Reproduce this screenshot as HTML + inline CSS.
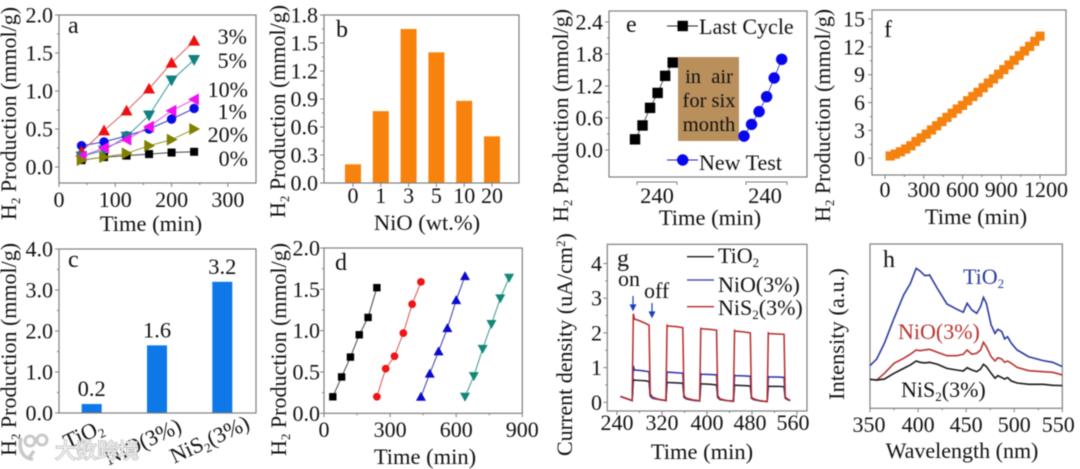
<!DOCTYPE html>
<html lang="en">
<head>
<meta charset="utf-8">
<title>H2 production panels a-h</title>
<style>
html,body{margin:0;padding:0;background:#fff;width:1080px;height:469px;overflow:hidden}
svg{display:block;filter:blur(0.5px)}
text{font-family:"Liberation Serif","Noto Serif CJK SC",serif;font-size:22px;fill:#111}
.t{font-size:22px}
.x{font-size:22.5px}
.p{font-size:24px}
.l{font-size:22px}
</style>
</head>
<body>
<svg id="chart" xmlns="http://www.w3.org/2000/svg" width="1080" height="469" viewBox="0 0 1080 469">
<rect x="0" y="0" width="1080" height="469" fill="#fff"/>

<g id="a">
<text class="t" transform="translate(16,220) rotate(-90)">H<tspan dy="4" font-size="13">2</tspan><tspan dy="-4"> Production (mmol/g)</tspan></text>
<text class="x" x="151" y="231" text-anchor="middle">Time (min)</text>
<text class="p" x="68" y="33">a</text>
<text class="t" x="247" y="44" text-anchor="end">3%</text>
<text class="t" x="247" y="68" text-anchor="end">5%</text>
<text class="t" x="248" y="97" text-anchor="end">10%</text>
<text class="t" x="247" y="119" text-anchor="end">1%</text>
<text class="t" x="248" y="142" text-anchor="end">20%</text>
<text class="t" x="248" y="166" text-anchor="end">0%</text>
</g>

<g id="b">
<text class="t" transform="translate(285,218) rotate(-90)">H<tspan dy="4" font-size="13">2</tspan><tspan dy="-4"> Production (mmol/g)</tspan></text>
<text class="x" x="427" y="230" text-anchor="middle">NiO (wt.%)</text>
<text class="p" x="336" y="37">b</text>
</g>

<g id="c">
<text class="t" transform="translate(16,456) rotate(-90)">H<tspan dy="4" font-size="13">2</tspan><tspan dy="-4"> Production (mmol/g)</tspan></text>
<text class="p" x="68" y="267">c</text>
<text class="t" text-anchor="end" transform="translate(105,432) rotate(-25)">TiO<tspan dy="4" font-size="13">2</tspan></text>
<text class="t" text-anchor="end" transform="translate(183,431) rotate(-25)">NiO(3%)</text>
<text class="t" text-anchor="end" transform="translate(251,428) rotate(-25)">NiS<tspan dy="4" font-size="13">2</tspan><tspan dy="-4">(3%)</tspan></text>
</g>

<g id="d">
<text class="t" transform="translate(286,456) rotate(-90)">H<tspan dy="4" font-size="13">2</tspan><tspan dy="-4"> Production (mmol/g)</tspan></text>
<text class="x" x="425" y="464" text-anchor="middle">Time (min)</text>
<text class="p" x="335" y="270">d</text>
</g>

<g id="e">
<text class="t" transform="translate(568,222) rotate(-90)">H<tspan dy="4" font-size="13">2</tspan><tspan dy="-4"> Production (mmol/g)</tspan></text>
<text class="x" x="710" y="225" text-anchor="middle">Time (min)</text>
<rect x="678" y="57" width="61" height="84" fill="#b98f5c"/>
<text x="709" y="83" text-anchor="middle" style="font-size:20.5px">in&#160; air</text>
<text x="709" y="107" text-anchor="middle" style="font-size:20.5px">for six</text>
<text x="709" y="131" text-anchor="middle" style="font-size:20.5px">month</text>
<text class="p" x="626" y="32">e</text>
<text class="l" x="699" y="34">Last Cycle</text>
<text class="l" x="699" y="170">New Test</text>
<text class="x" x="657" y="203" text-anchor="middle">240</text>
<text class="x" x="765" y="203" text-anchor="middle">240</text>
</g>

<g id="f">
<text class="t" transform="translate(830,222) rotate(-90)">H<tspan dy="4" font-size="13">2</tspan><tspan dy="-4"> Production (mmol/g)</tspan></text>
<text class="x" x="976" y="224" text-anchor="middle">Time (min)</text>
<text class="p" x="884" y="37">f</text>
</g>

<g id="g">
<text class="t" transform="translate(572,456) rotate(-90)">Current density (uA/cm<tspan dy="-7" font-size="13">2</tspan><tspan dy="7">)</tspan></text>
<text class="x" x="702" y="459" text-anchor="middle">Time (min)</text>
<text class="p" x="617" y="266">g</text>
<text class="t" x="618" y="286">on</text>
<text class="t" x="644" y="298">off</text>
<text class="l" x="718" y="263">TiO<tspan dy="4" font-size="13">2</tspan></text>
<text class="l" x="718" y="292">NiO(3%)</text>
<text class="l" x="718" y="315">NiS<tspan dy="4" font-size="13">2</tspan><tspan dy="-4">(3%)</tspan></text>
</g>

<g id="h">
<text class="x" transform="translate(844,400) rotate(-90)">Intensity (a.u.)</text>
<text class="l" x="962" y="458" text-anchor="middle">Wavelength (nm)</text>
<text class="p" x="883" y="267">h</text>
<text class="l" x="963" y="284" style="fill:#2b3a9f">TiO<tspan dy="4" font-size="13">2</tspan></text>
<text class="l" x="898" y="339" style="fill:#b8332f">NiO(3%)</text>
<text class="l" x="901" y="397">NiS<tspan dy="4" font-size="13">2</tspan><tspan dy="-4">(3%)</tspan></text>
</g>

<g id="wm">
<circle cx="30" cy="441" r="5" fill="none" stroke="#c9c9c9" stroke-width="3"/>
<circle cx="42" cy="440" r="5" fill="none" stroke="#c9c9c9" stroke-width="3"/>
<path d="M21 438 C18 451 24 459 33 459 M34 451 L28 459" fill="none" stroke="#c9c9c9" stroke-width="3.5"/>
<text x="55" y="458" stroke="#bdbdbd" stroke-width="1.4" paint-order="stroke" style="font-family:'Noto Sans CJK SC',sans-serif;font-size:21px;fill:rgba(250,250,250,0.82)">大数跨境</text>
</g>
</svg>

<script>
/* ---------- panel a ---------- */
const aTimes = [40, 80, 120, 160, 200, 240];
const a0pct = [0.09, 0.13, 0.15, 0.17, 0.19, 0.20];
const a1pct = [0.28, 0.33, 0.41, 0.50, 0.63, 0.77];
const a3pct = [0.20, 0.48, 0.74, 1.03, 1.37, 1.66];
const a5pct = [0.14, 0.22, 0.40, 0.68, 1.14, 1.41];
const a10pct = [0.14, 0.25, 0.36, 0.53, 0.74, 0.89];
const a20pct = [0.09, 0.13, 0.18, 0.28, 0.36, 0.50];
const aXTicks = ['0', '100', '200', '300'];
const aYTicks = ['0.0', '0.5', '1.0', '1.5', '2.0'];

/* ---------- panel b ---------- */
const bCategories = ['0', '1', '3', '5', '10', '20'];
const bValues = [0.20, 0.77, 1.65, 1.40, 0.88, 0.50];
const bYTicks = ['0.0', '0.3', '0.6', '0.9', '1.2', '1.5', '1.8'];

/* ---------- panel c ---------- */
const cValues = [0.22, 1.65, 3.20];
const cPrinted = ['0.2', '1.6', '3.2'];
const cYTicks = ['0.0', '1.0', '2.0', '3.0', '4.0'];

/* ---------- panel d ---------- */
const dTimes1 = [40, 80, 120, 160, 200, 240];
const dTimes2 = [240, 280, 320, 360, 400, 440];
const dTimes3 = [440, 480, 520, 560, 600, 640];
const dTimes4 = [640, 680, 720, 760, 800, 840];
const dRun1 = [0.20, 0.44, 0.68, 0.95, 1.16, 1.52];
const dRun2 = [0.20, 0.54, 0.69, 0.97, 1.32, 1.59];
const dRun3 = [0.20, 0.48, 0.75, 1.03, 1.37, 1.66];
const dRun4 = [0.20, 0.45, 0.78, 1.08, 1.39, 1.64];
const dXTicks = ['0', '300', '600', '900'];
const dYTicks = ['0.0', '0.5', '1.0', '1.5', '2.0'];

/* ---------- panel e ---------- */
const eTimes = [40, 80, 120, 160, 200, 240];
const eLast = [0.20, 0.46, 0.79, 1.07, 1.39, 1.64];
const eNew = [0.26, 0.48, 0.72, 1.00, 1.35, 1.70];
const eYTicks = ['0.0', '0.6', '1.2', '1.8', '2.4'];

/* ---------- panel f ---------- */
const fTimes = [40,80,120,160,200,240,280,320,360,400,440,480,520,560,600,640,680,720,760,800,840,880,920,960,1000,1040,1080,1120,1160,1200];
const fValues = [0.25,0.45,0.7,1.0,1.35,1.8,2.2,2.6,3.05,3.5,3.95,4.4,4.85,5.3,5.7,6.2,6.65,7.1,7.6,8.1,8.55,9.05,9.55,10.05,10.55,11.05,11.55,12.05,12.6,13.15];
const fXTicks = ['0', '300', '600', '900', '1200'];
const fYTicks = ['0', '3', '6', '9', '12', '15'];

/* ---------- panel g ---------- */
const gTimes = [246,258,267,269,271,280,290,297,299,303,315,327,329,331,345,357,359,363,375,387,389,391,405,417,419,423,435,447,449,451,465,477,479,483,495,507,509,511,525,537,539,543,548];
const gNiS2 = [.17,.1,.05,2.55,2.4,2.35,2.28,2.22,.25,.15,.08,.05,2.22,2.2,2.18,2.15,.2,.12,.07,.04,2.13,2.12,2.1,2.08,.2,.1,.05,.03,2.07,2.05,2.03,2.0,.15,.1,.04,.02,2.0,1.98,1.97,1.96,.15,.1,.05];
const gNiO = [.17,.1,.05,1.05,.93,.92,.9,.88,.2,.12,.08,.05,.87,.87,.85,.84,.17,.1,.06,.04,.82,.81,.8,.79,.15,.09,.05,.03,.78,.77,.76,.75,.13,.08,.04,.02,.74,.73,.73,.72,.13,.08,.05];
const gTiO2 = [.17,.1,.05,.66,.64,.63,.62,.6,.18,.12,.08,.05,.58,.57,.56,.55,.15,.1,.06,.04,.54,.53,.52,.5,.14,.08,.05,.03,.5,.49,.48,.47,.12,.08,.04,.02,.47,.46,.46,.45,.12,.08,.05];
const gXTicks = ['240', '320', '400', '480', '560'];
const gYTicks = ['0', '1', '2', '3', '4'];

/* ---------- panel h ---------- */
const hWavelengths = [350,357,365,375,385,392,398,402,407,412,420,430,440,447,451,456,461,465,468,471,476,480,483,487,490,493,497,503,515,530,540,550];
const hTiO2 = [26,30,39.6,54.8,69,76,85.2,83.6,80.7,81.1,73,63.5,60.4,58.4,63.9,59.8,57.8,61.9,67.5,63.9,50.7,45.6,48.1,46.7,42.2,43.6,39.6,35.5,31.4,29,28,25.4];
const hNiO = [17.6,17.2,21.3,27.4,30.4,32.9,35.5,35.1,35.5,35.9,34.1,32,32,32.9,35.5,32.9,33.5,35.5,40.2,37.5,31.4,28.8,30.8,30,28,28.8,27.4,24.9,22.9,22.3,21.9,20.3];
const hNiS2 = [17.6,17.2,17.8,21.3,24.3,26.4,28.8,28,27.6,28,26.8,24.3,23.3,22.7,24.7,23.3,22.3,23.9,26.8,25.4,21.3,18.3,19.9,18.7,17.8,18.7,16.6,15.4,14.6,14.6,14,13.8];
const hXTicks = ['350', '400', '450', '500', '550'];

/* ---------- helpers ---------- */
const NS = 'http://www.w3.org/2000/svg';
const AXIS = '#7f7f7f';
function linear(d0, d1, r0, r1) { return function (v) { return r0 + (v - d0) * (r1 - r0) / (d1 - d0); }; }
function make(tag, attrs, parent) {
  const n = document.createElementNS(NS, tag);
  for (const k in attrs) n.setAttribute(k, attrs[k]);
  parent.appendChild(n);
  return n;
}
function drawBox(g, l, t, r, b, id) {
  const el = make('rect', {x: l, y: t, width: r - l, height: b - t, fill: 'none', stroke: AXIS, 'stroke-width': 1.2}, g);
  
  
}
function drawXAxis(g, id, x, ticks, yBase, labelY, shift) {
  ticks.forEach(function (lab, i) {
    const p = x(Number(lab));
    const tk = make('line', {x1: p, x2: p, y1: yBase, y2: yBase + 4, stroke: AXIS, 'stroke-width': 1}, g);
    
    
    const tx = make('text', {x: p + ((shift && shift[lab]) || 0), y: labelY, 'text-anchor': 'middle'}, g);
    tx.textContent = lab;
    
    
    if (i < ticks.length - 1) {
      const q = x((Number(lab) + Number(ticks[i + 1])) / 2);
      const mn = make('line', {x1: q, x2: q, y1: yBase, y2: yBase + 2, stroke: AXIS, 'stroke-width': 1}, g);
      
      
    }
  });
}
function drawYAxis(g, id, y, ticks, xBase, labelX) {
  ticks.forEach(function (lab, i) {
    const p = y(Number(lab));
    const tk = make('line', {x1: xBase - 4, x2: xBase, y1: p, y2: p, stroke: AXIS, 'stroke-width': 1}, g);
    
    
    const tx = make('text', {x: labelX, y: p + 7.5, 'text-anchor': 'end'}, g);
    tx.textContent = lab;
    
    
    if (i < ticks.length - 1) {
      const q = y((Number(lab) + Number(ticks[i + 1])) / 2);
      const mn = make('line', {x1: xBase - 2, x2: xBase, y1: q, y2: q, stroke: AXIS, 'stroke-width': 1}, g);
      
      
    }
  });
}
function marker(g, shape, cx, cy, s, color, name) {
  let el;
  if (shape === 'circle') {
    el = make('circle', {cx: cx, cy: cy, r: s, fill: color}, g);
  } else if (shape === 'square') {
    el = make('rect', {x: cx - s, y: cy - s, width: 2 * s, height: 2 * s, fill: color}, g);
  } else {
    const pts = {
      up: [[0, -s], [s, s * 0.8], [-s, s * 0.8]],
      down: [[0, s], [s, -s * 0.8], [-s, -s * 0.8]],
      left: [[-s, 0], [s * 0.8, -s], [s * 0.8, s]],
      right: [[s, 0], [-s * 0.8, -s], [-s * 0.8, s]]
    }[shape];
    el = make('polygon', {points: pts.map(function (p) { return (cx + p[0]) + ',' + (cy + p[1]); }).join(' '), fill: color}, g);
  }
  
  
}
function series(g, name, xs, ys, x, y, lineColor, lineW, shape, size, color) {
  const pts = xs.map(function (v, i) { return x(v) + ',' + y(ys[i]); }).join(' ');
  const ln = make('polyline', {points: pts, fill: 'none', stroke: lineColor, 'stroke-width': lineW}, g);
  
  
  if (shape) xs.forEach(function (v, i) { marker(g, shape, x(v), y(ys[i]), size, color, name + '-point'); });
}
function bar(g, cx, w, top, base, color, name) {
  const el = make('rect', {x: cx - w / 2, y: top, width: w, height: base - top, fill: color}, g);
  
  
}

/* ---------- panel a ---------- */
(function () {
  const g = document.getElementById('a');
  const x = linear(0, 350, 59, 256), y = linear(0, 2, 167, 15);
  drawBox(g, 59, 15, 256, 183, 'panel-a');
  drawXAxis(g, 'panel-a', x, aXTicks, 183, 207);
  drawYAxis(g, 'panel-a', y, aYTicks, 59, 53);
  series(g, 'series-0-percent', aTimes, a0pct, x, y, '#444', 1, 'square', 4, '#000');
  series(g, 'series-1-percent', aTimes, a1pct, x, y, '#3a3ad0', 1, 'circle', 4.7, '#0a0ae6');
  series(g, 'series-3-percent', aTimes, a3pct, x, y, '#d86060', 1, 'up', 6, '#ee1010');
  series(g, 'series-5-percent', aTimes, a5pct, x, y, '#3a9a9a', 1, 'down', 6, '#118080');
  series(g, 'series-10-percent', aTimes, a10pct, x, y, '#e050e0', 1, 'left', 6, '#f010f0');
  series(g, 'series-20-percent', aTimes, a20pct, x, y, '#9a9a30', 1, 'right', 6, '#808000');
})();

/* ---------- panel b ---------- */
(function () {
  const g = document.getElementById('b');
  const x = linear(0, 5, 353, 492), y = linear(0, 1.8, 183, 15);
  bValues.forEach(function (v, i) {
    bar(g, x(i), 16, y(v), y(0), '#f7820c', 'bar-nio-' + bCategories[i]);
    const tk = make('line', {x1: x(i), x2: x(i), y1: 183, y2: 187, stroke: AXIS}, g);
    
    
    const tx = make('text', {x: x(i), y: 203, 'text-anchor': 'middle'}, g);
    tx.textContent = bCategories[i];
    
    
  });
  drawBox(g, 324, 15, 519, 183, 'panel-b');
  drawYAxis(g, 'panel-b', y, bYTicks, 324, 318);
})();

/* ---------- panel c ---------- */
(function () {
  const g = document.getElementById('c');
  const x = linear(0, 2, 91.7, 222.3), y = linear(0, 4, 413, 249);
  cValues.forEach(function (v, i) {
    bar(g, x(i), 20, y(v), y(0), '#0f78e8', 'bar-' + i);
    const tx = make('text', {x: x(i), y: y(v) - 8, 'text-anchor': 'middle', style: 'font-size:22.5px'}, g);
    tx.textContent = cPrinted[i];
    
    
  });
  drawBox(g, 59, 249, 256, 413, 'panel-c');
  drawYAxis(g, 'panel-c', y, cYTicks, 59, 53);
})();

/* ---------- panel d ---------- */
(function () {
  const g = document.getElementById('d');
  const x = linear(0, 900, 324, 522.3), y = linear(0, 2, 413.3, 248);
  drawBox(g, 324, 248, 522.3, 413.3, 'panel-d');
  drawXAxis(g, 'panel-d', x, dXTicks, 413.3, 437);
  drawYAxis(g, 'panel-d', y, dYTicks, 324, 320);
  series(g, 'cycle-1', dTimes1, dRun1, x, y, '#444', 1, 'square', 3.7, '#000');
  series(g, 'cycle-2', dTimes2, dRun2, x, y, '#d85050', 1, 'circle', 3.9, '#ee1515');
  series(g, 'cycle-3', dTimes3, dRun3, x, y, '#3a3ab0', 1, 'up', 5, '#0a0acc');
  series(g, 'cycle-4', dTimes4, dRun4, x, y, '#3a9a90', 1, 'down', 5, '#118878');
})();

/* ---------- panel e ---------- */
(function () {
  const g = document.getElementById('e');
  const xL = linear(40, 240, 635, 672.7), xR = linear(40, 240, 744, 781.7), y = linear(0, 2.4, 150, 22);
  drawBox(g, 609, 11, 807, 177, 'panel-e');
  drawYAxis(g, 'panel-e', y, eYTicks, 609, 603);
  series(g, 'last-cycle', eTimes, eLast, xL, y, '#333', 0.8, 'square', 5.2, '#000');
  series(g, 'new-test', eTimes, eNew, xR, y, '#2020c0', 0.8, 'circle', 5.7, '#0707ee');
  [[637, 677], [746, 787]].forEach(function (s) {
    const ax = make('path', {d: 'M' + s[0] + ' 185V182H' + s[1] + 'V185', fill: 'none', stroke: AXIS, 'stroke-width': 1}, g);
    
    
  });
  const l1 = make('line', {x1: 667, x2: 698, y1: 26, y2: 26, stroke: '#222', 'stroke-width': 1}, g);
  
  
  marker(g, 'square', 682.7, 26, 5.2, '#000', 'legend-last-cycle-marker');
  const l2 = make('line', {x1: 667, x2: 698, y1: 160, y2: 160, stroke: '#2020c0', 'stroke-width': 1}, g);
  
  
  marker(g, 'circle', 682.7, 160, 5.7, '#0707ee', 'legend-new-test-marker');
})();

/* ---------- panel f ---------- */
(function () {
  const g = document.getElementById('f');
  const x = linear(0, 1200, 885, 1040), y = linear(0, 15, 158.3, 19);
  drawBox(g, 872, 10, 1066, 175, 'panel-f');
  drawXAxis(g, 'panel-f', x, fXTicks, 175, 197, {'1200': 6});
  drawYAxis(g, 'panel-f', y, fYTicks, 872, 865);
  series(g, 'production-series', fTimes, fValues, x, y, '#f5820f', 3, 'square', 4.6, '#f5820f');
})();

/* ---------- panel g ---------- */
(function () {
  const g = document.getElementById('g');
  const x = linear(240, 560, 617, 797), y = linear(0, 4, 402.3, 263.5);
  drawBox(g, 607.3, 244.3, 807, 411, 'panel-g');
  drawXAxis(g, 'panel-g', x, gXTicks, 411, 430, {'480': -2, '560': -4});
  drawYAxis(g, 'panel-g', y, gYTicks, 607.3, 602);
  series(g, 'tio2-trace', gTimes, gTiO2, x, y, '#1a1a1a', 1.5);
  series(g, 'nio-trace', gTimes, gNiO, x, y, '#2a30a8', 1.5);
  series(g, 'nis2-trace', gTimes, gNiS2, x, y, '#b52a2a', 1.5);
  [[256.7, '#1a1a1a', 'legend-tio2-line'], [280, '#2a30a8', 'legend-nio-line'], [306.7, '#b52a2a', 'legend-nis2-line']].forEach(function (r) {
    const ln = make('line', {x1: 687, x2: 714, y1: r[0], y2: r[0], stroke: r[1], 'stroke-width': 1.3}, g);
    
    
  });
  [[633, 296, 310, 'on-arrow'], [652, 303, 317, 'off-arrow']].forEach(function (a) {
    const ar = make('path', {d: 'M' + a[0] + ' ' + a[1] + 'V' + a[2] + 'M' + (a[0] - 2.5) + ' ' + (a[2] - 5) + 'L' + a[0] + ' ' + a[2] + 'L' + (a[0] + 2.5) + ' ' + (a[2] - 5) + 'Z', fill: '#1a3fc0', stroke: '#1a3fc0', 'stroke-width': 1.2}, g);
    
    
  });
})();

/* ---------- panel h ---------- */
(function () {
  const g = document.getElementById('h');
  const x = linear(350, 550, 870, 1062.3), y = linear(0, 100, 408.3, 244);
  drawBox(g, 870, 244, 1062.3, 408.3, 'panel-h');
  drawXAxis(g, 'panel-h', x, hXTicks, 408.3, 432, {'350': -1, '550': -4});
  series(g, 'tio2-spectrum', hWavelengths, hTiO2, x, y, '#2b3a9f', 1.6);
  series(g, 'nio-spectrum', hWavelengths, hNiO, x, y, '#b8332f', 1.6);
  series(g, 'nis2-spectrum', hWavelengths, hNiS2, x, y, '#1a1a1a', 1.6);
})();
</script>
</body>
</html>
